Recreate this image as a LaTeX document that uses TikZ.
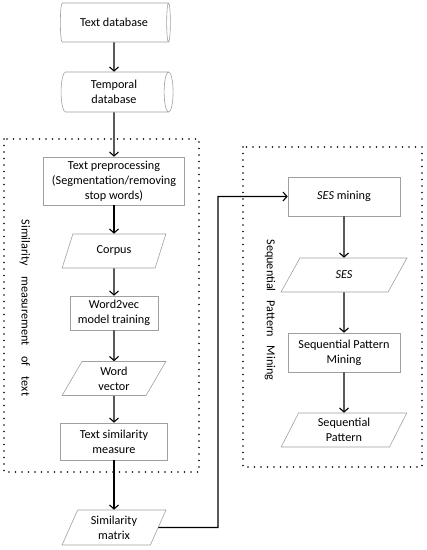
\documentclass[tikz,border=0pt]{standalone}
\usepackage{fontspec}
\setmainfont{Carlito}
\usetikzlibrary{shapes.geometric,arrows.meta}
\definecolor{boxgray}{HTML}{A0A0A0}
\tikzset{
  base/.style={draw=boxgray, line width=0.6pt, align=center, font=\fontsize{12.2}{15}\selectfont, inner sep=1pt},
  proc/.style={base, rectangle},
  db/.style={base, cylinder, shape aspect=0.35, minimum width=39pt, minimum height=110pt},
  data/.style={base, trapezium, trapezium left angle=68, trapezium right angle=112, trapezium stretches=true, minimum width=104pt, minimum height=34pt},
  arr/.style={line width=1.1pt, -{Straight Barb[length=4pt,width=9pt]}},
  grp/.style={line width=1.6pt, dash pattern=on 0pt off 6.5pt, line cap=round},
  lbl/.style={rotate=-90, font=\fontsize{12.2}{15}\selectfont},
}
\begin{document}
\begin{tikzpicture}[x=1pt,y=-1pt]
\useasboundingbox (0,0) rectangle (427,550);
% groups
\draw[grp] (4,139) rectangle (199,472);
\draw[grp] (243,147) rectangle (422,467);
\node[lbl] (l1) at (25,308) {Similarity\hspace{10.5pt}measurement\hspace{10.5pt}of\hspace{10.5pt}text};
\node[lbl] (l2) at (270,310) {Sequential\hspace{9pt}Pattern\hspace{9pt}Mining};
% left column
\node[db] (db1) at (114,22.5) {Text database};
\node[db, minimum height=112pt, minimum width=40pt] (db2) at (114,92) {Temporal\\database};
\node[proc, minimum width=141pt, minimum height=48pt] (pre) at (114,181) {Text preprocessing\\(Segmentation/removing\\stop words)};
\node[data] (corp) at (114,251) {Corpus};
\node[proc, minimum width=88pt, minimum height=34pt] (w2v) at (114,313) {Word2vec\\model training};
\node[data] (wv) at (114,378.5) {Word\\vector};
\node[proc, minimum width=107pt, minimum height=37pt] (tsm) at (114,441.5) {Text similarity\\measure};
\node[data, minimum height=35pt] (sm) at (114,527.5) {Similarity\\matrix};
% right column
\node[proc, minimum width=112pt, minimum height=39pt] (ses) at (344,196.5) {\textit{SES} mining};
\node[data, minimum width=126pt] (sesd) at (344,275) {\textit{SES}};
\node[proc, minimum width=112pt, minimum height=39pt] (spm) at (344,352.5) {Sequential Pattern\\Mining};
\node[data, minimum width=126pt] (sp) at (344,430) {Sequential\\Pattern};
\coordinate (c1) at (218,527.5);
\coordinate (c2) at (218,196.5);
% arrows
\draw[arr] (db1) -- (db2);
\draw[arr] (db2) -- (pre);
\draw[arr] (pre) -- (corp);
\draw[arr] (corp) -- (w2v);
\draw[arr] (w2v) -- (wv);
\draw[arr] (wv) -- (tsm);
\draw[arr] (tsm) -- (sm);
\draw[arr] (sm.east) -- (c1) -- (c2) -- (ses.west);
\draw[arr] (ses) -- (sesd);
\draw[arr] (sesd) -- (spm);
\draw[arr] (spm) -- (sp);
\end{tikzpicture}
\end{document}
